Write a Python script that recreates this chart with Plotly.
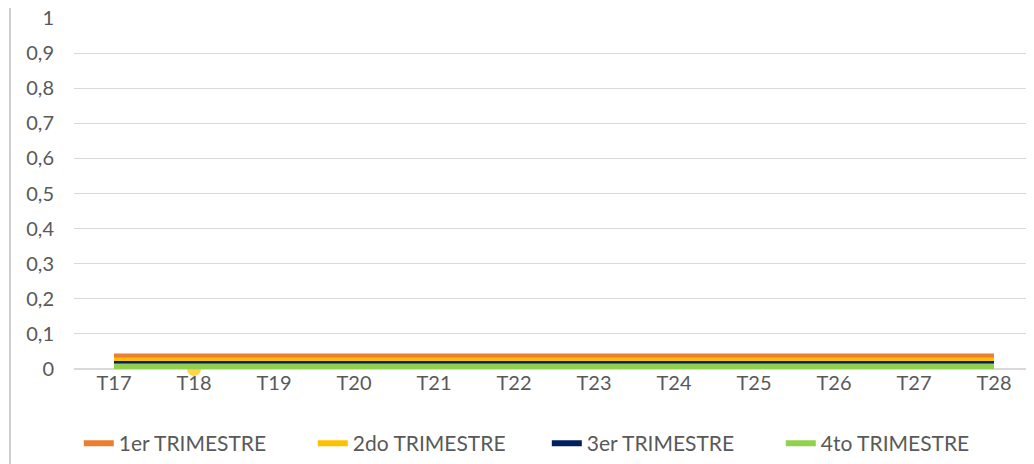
import plotly.graph_objects as go

categories = ["T17", "T18", "T19", "T20", "T21", "T22", "T23", "T24", "T25", "T26", "T27", "T28"]
q1 = [0, 0, 0, 0, 0, 0, 0, 0, 0, 0, 0, 0]
q2 = [0, 0, 0, 0, 0, 0, 0, 0, 0, 0, 0, 0]
q3 = [0, 0, 0, 0, 0, 0, 0, 0, 0, 0, 0, 0]
q4 = [0, 0, 0, 0, 0, 0, 0, 0, 0, 0, 0, 0]
names = ["1er TRIMESTRE", "2do TRIMESTRE", "3er TRIMESTRE", "4to TRIMESTRE"]
y_ticks = [0, 0.1, 0.2, 0.3, 0.4, 0.5, 0.6, 0.7, 0.8, 0.9, 1]

colors = ["#ED7D31", "#FFC000", "#002060", "#92D050"]
widths = [31, 23, 16, 11]

fig = go.Figure()
for i, (vals, name) in enumerate(zip([q1, q2, q3, q4], names)):
    marker = dict(size=0)
    mode = "lines"
    cl = True
    if i == 1:
        mode = "lines+markers"
        marker = dict(size=[0, 14] + [0] * 10, color=colors[i], line=dict(width=0))
        cl = False
    fig.add_trace(go.Scatter(
        x=categories, y=vals, name=name, mode=mode, showlegend=False,
        line=dict(color=colors[i], width=widths[i]),
        marker=marker, cliponaxis=cl,
    ))

# legend entries (thin sample lines, no data)
for i, name in enumerate(names):
    fig.add_trace(go.Scatter(
        x=[None], y=[None], name=name, mode="lines",
        line=dict(color=colors[i], width=6), showlegend=True,
    ))

fig.update_layout(
    width=1026, height=456,
    margin=dict(l=66, r=0, t=10, b=95, autoexpand=False),
    paper_bgcolor="white", plot_bgcolor="white",
    separators=", ",
    font=dict(family="Lato, Liberation Sans, sans-serif", size=20, color="#595959"),
    showlegend=True,
    legend=dict(orientation="h", x=0.005, xanchor="left",
                yref="container", y=-0.02, yanchor="bottom",
                entrywidth=189, entrywidthmode="pixels", itemwidth=30,
                font=dict(size=21, color="#595959"), traceorder="normal"),
    xaxis=dict(showgrid=False, showline=False, ticks="", range=[-0.5, 11.5],
               tickfont=dict(size=20, color="#595959")),
    yaxis=dict(range=[0, 1], tickvals=y_ticks, showgrid=True, gridcolor="#D9D9D9",
               gridwidth=1, zeroline=True, zerolinecolor="#D9D9D9", showline=False,
               ticks="", ticklabelstandoff=19, ticklabeloverflow="allow",
               tickfont=dict(size=20, color="#595959")),
    shapes=[dict(type="line", xref="paper", yref="paper", x0=-0.0667, x1=-0.0667,
                 y0=-0.28, y1=1.03, layer="above",
                 line=dict(color="#BFBFBF", width=1.5))],
)

fig.write_html("out.html")
